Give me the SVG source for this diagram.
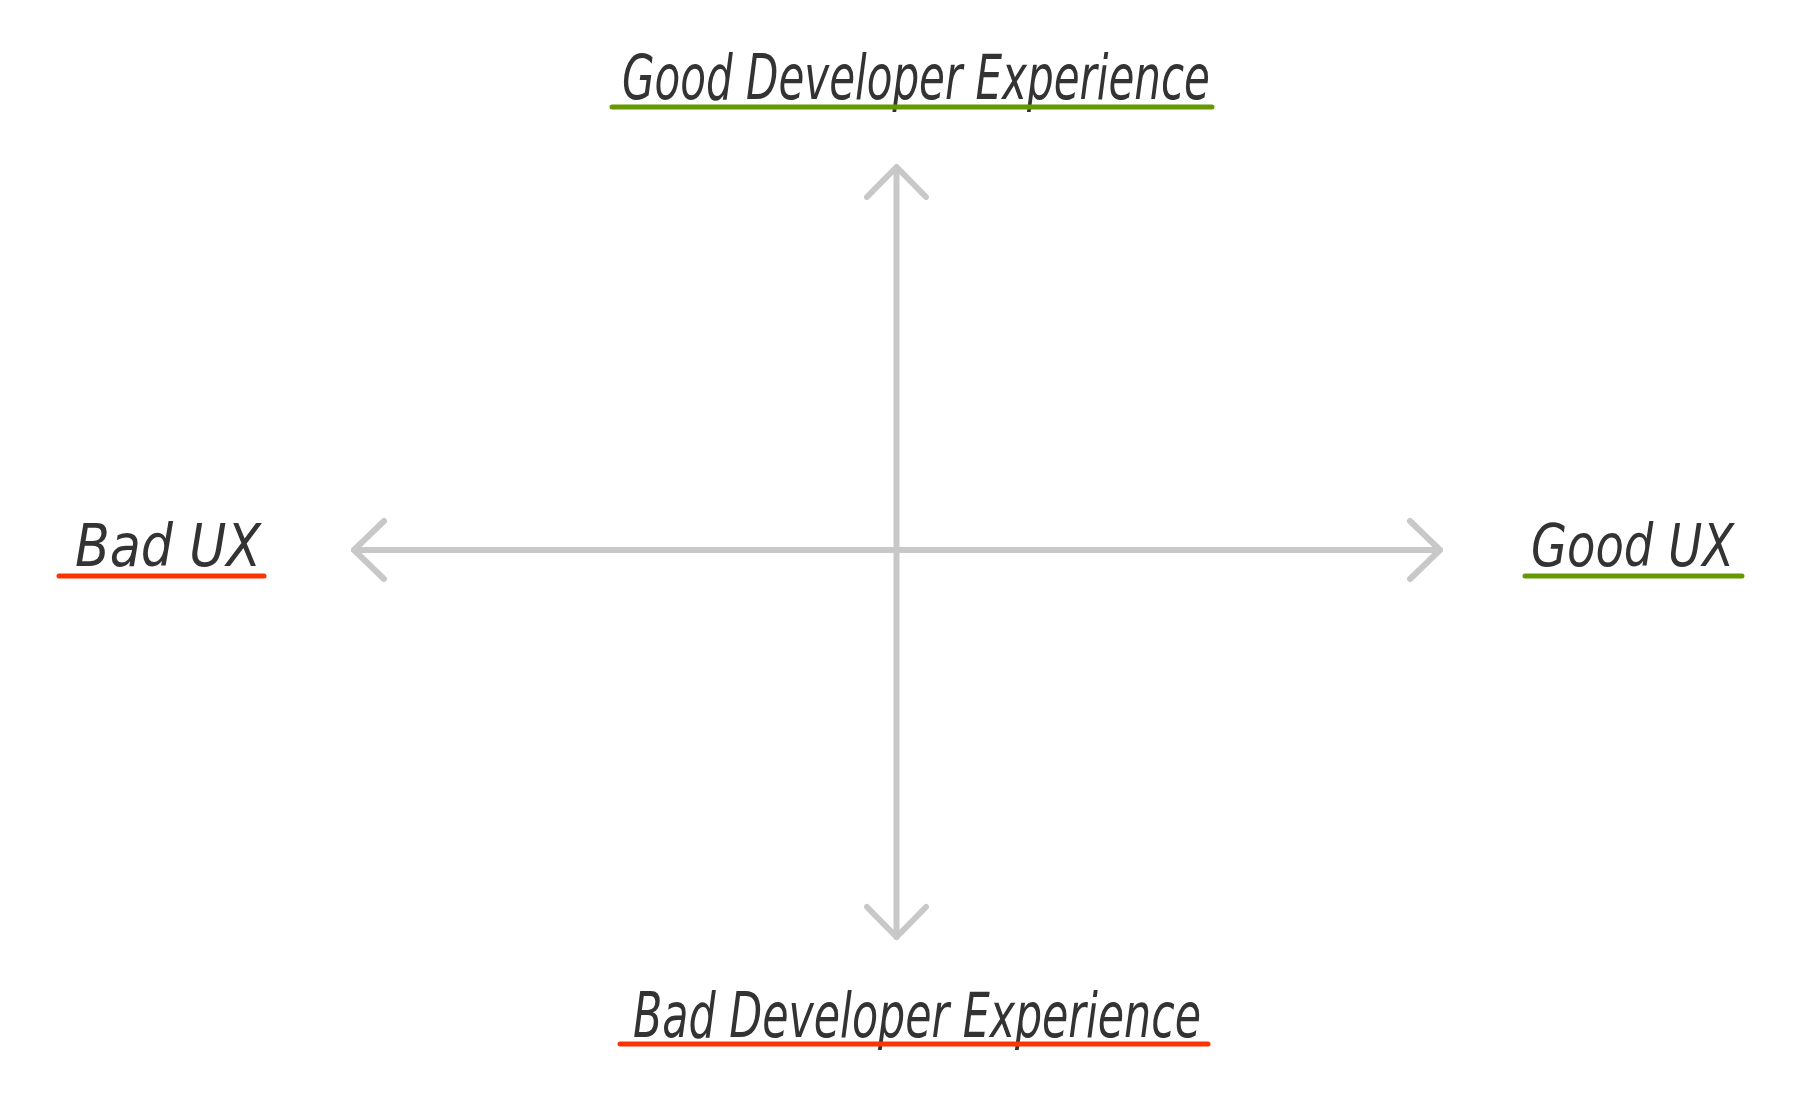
<svg xmlns="http://www.w3.org/2000/svg" width="1800" height="1100" viewBox="0 0 1800 1100">
  <style>
    .axis { stroke: #c8c8c8; stroke-width: 6; fill: none; stroke-linecap: round; stroke-linejoin: round; }
    .label { font-family: "DejaVu Sans Condensed", "Liberation Sans", sans-serif; font-style: italic; fill: #333333; }
    .good { stroke: #669900; stroke-width: 5; stroke-linecap: round; }
    .bad { stroke: #ff3300; stroke-width: 5; stroke-linecap: round; }
  </style>
  <rect width="1800" height="1100" fill="#ffffff"/>
  <g id="connectors">
    <path class="axis" d="M896.5 168 L896.5 937"/>
    <path class="axis" d="M354 550 L1440 550"/>
    <path class="axis" d="M867 197 L896.5 167 L926 197"/>
    <path class="axis" d="M867 907 L896.5 937 L926 907"/>
    <path class="axis" d="M384 521 L354 550 L384 579"/>
    <path class="axis" d="M1410 521 L1440 550 L1410 579"/>
  </g>
  <g id="good-dx">
    <text class="label" x="622" y="99" font-size="62" textLength="588" lengthAdjust="spacingAndGlyphs">Good Developer Experience</text>
    <line class="good" x1="612" y1="107" x2="1212" y2="107"/>
  </g>
  <g id="bad-dx">
    <text class="label" x="633" y="1037" font-size="62" textLength="568" lengthAdjust="spacingAndGlyphs">Bad Developer Experience</text>
    <line class="bad" x1="620" y1="1044" x2="1208" y2="1044"/>
  </g>
  <g id="bad-ux">
    <text class="label" x="75" y="566" font-size="58" textLength="186" lengthAdjust="spacingAndGlyphs">Bad UX</text>
    <line class="bad" x1="59" y1="576" x2="264" y2="576"/>
  </g>
  <g id="good-ux">
    <text class="label" x="1531" y="566" font-size="58" textLength="203" lengthAdjust="spacingAndGlyphs">Good UX</text>
    <line class="good" x1="1531" y1="576" x2="1748" y2="576" transform="translate(-6 0)"/>
  </g>
</svg>
